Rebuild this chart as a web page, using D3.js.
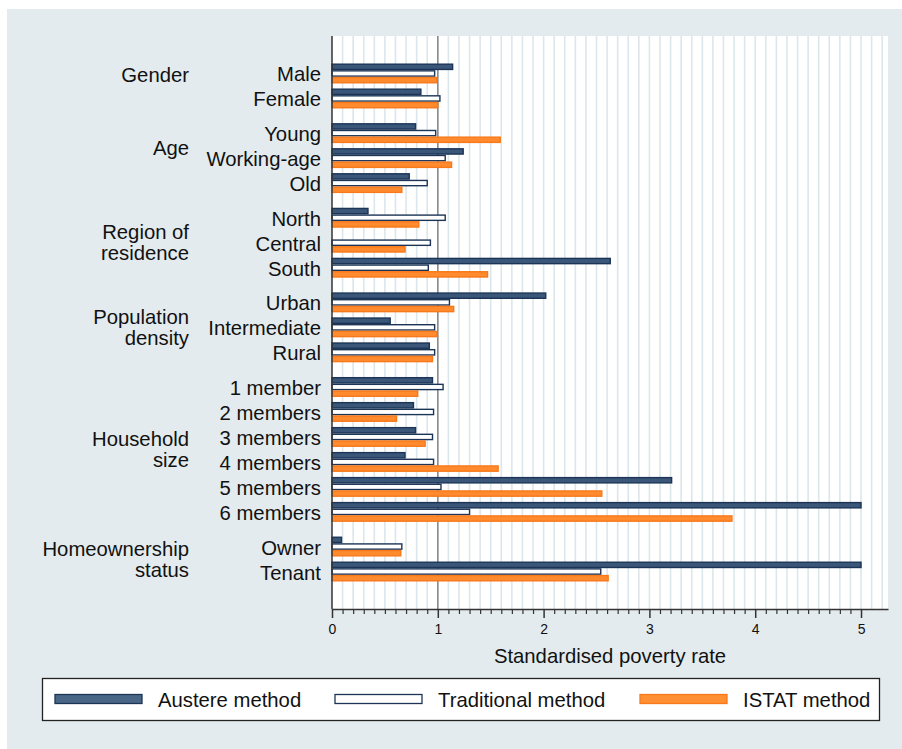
<!DOCTYPE html>
<html>
<head>
<meta charset="utf-8">
<script src="https://cdn.jsdelivr.net/npm/d3@7"></script>
<style>
  body { margin: 0; background: #fff; }
  text { font-family: "Liberation Sans", Arial, Helvetica, sans-serif; fill: #111; }
</style>
</head>
<body>
<div id="chart"></div>
<script>
(function () {
    var width = 902,
        height = 749;

    // data
    var groupLabels = [["Gender"], ["Age"], ["Region of", "residence"], ["Population", "density"], ["Household", "size"], ["Homeownership", "status"]];
    var categories = ["Male", "Female", "Young", "Working-age", "Old", "North", "Central", "South",
        "Urban", "Intermediate", "Rural", "1 member", "2 members", "3 members", "4 members",
        "5 members", "6 members", "Owner", "Tenant"];
    var groupOf = [0, 0, 1, 1, 1, 2, 2, 2, 3, 3, 3, 4, 4, 4, 4, 4, 4, 5, 5];
    var austere = [1.14, 0.84, 0.79, 1.24, 0.73, 0.34, null, 2.63, 2.02, 0.55, 0.92, 0.95, 0.77, 0.79, 0.69, 3.21, 5.0, 0.09, 5.0];
    var traditional = [0.97, 1.02, 0.98, 1.07, 0.90, 1.07, 0.93, 0.91, 1.11, 0.97, 0.97, 1.05, 0.96, 0.95, 0.96, 1.03, 1.30, 0.66, 2.54];
    var istat = [0.99, 1.00, 1.59, 1.13, 0.66, 0.82, 0.69, 1.47, 1.15, 0.99, 0.95, 0.81, 0.61, 0.88, 1.57, 2.55, 3.78, 0.65, 2.61];
    var seriesNames = ["Austere method", "Traditional method", "ISTAT method"];
    var xTicks = [0, 1, 2, 3, 4, 5];

    var series = [austere, traditional, istat];
    var fills = ["#3a5678", "#ffffff", "#ff8b2e"];
    var strokes = ["#1c3557", "#1c3557", "#f7791a"];

    var plot = {left: 332, right: 888, top: 36, bottom: 609};
    var gapFrac = 0.387;   // extra space between groups, in slots

    var svg = d3.select("#chart")
        .append("svg")
        .attr("width", width)
        .attr("height", height);

    svg.append("rect")
        .attr("x", 7).attr("y", 9)
        .attr("width", width - 7).attr("height", height - 9)
        .attr("fill", "#e3ebee");

    svg.append("rect")
        .attr("x", plot.left).attr("y", plot.top)
        .attr("width", plot.right - plot.left).attr("height", plot.bottom - plot.top)
        .attr("fill", "#fff");

    var x = d3.scaleLinear().domain([0, 5.255]).range([plot.left, plot.right]);

    // slot position of each category, groups separated by a gap
    var slot = categories.map(function (c, i) { return i + groupOf[i] * gapFrac; });
    var yMax = slot[slot.length - 1] + 2;
    var y = d3.scaleLinear().domain([-1, yMax]).range([plot.top, plot.bottom]);
    var barH = (y(0.8) - y(0)) / 3;

    // minor grid every 0.1
    var grid = d3.range(1, 53).map(function (i) { return i / 10; });
    svg.append("g").selectAll("line")
        .data(grid)
        .enter().append("line")
        .attr("x1", function (d) { return x(d); })
        .attr("x2", function (d) { return x(d); })
        .attr("y1", plot.top).attr("y2", plot.bottom)
        .attr("stroke", "#dce7eb")
        .attr("stroke-width", 1.6);

    // reference line at 1
    svg.append("line")
        .attr("x1", x(1)).attr("x2", x(1))
        .attr("y1", plot.top).attr("y2", plot.bottom)
        .attr("stroke", "#8c8c8c")
        .attr("stroke-width", 1.6);

    // bars
    series.forEach(function (vals, s) {
        svg.append("g").selectAll("rect")
            .data(vals.map(function (v, i) { return {v: v, i: i}; }).filter(function (d) { return d.v !== null; }))
            .enter().append("rect")
            .attr("x", x(0))
            .attr("y", function (d) { return y(slot[d.i] + 0.1) + s * barH + 0.7; })
            .attr("width", function (d) { return x(d.v) - x(0); })
            .attr("height", barH - 1.4)
            .attr("fill", fills[s])
            .attr("stroke", strokes[s])
            .attr("stroke-width", 1.4);
    });

    // y axis line
    svg.append("line")
        .attr("x1", plot.left).attr("x2", plot.left)
        .attr("y1", plot.top).attr("y2", plot.bottom)
        .attr("stroke", "#333")
        .attr("stroke-width", 1.5);

    // x axis
    var minorAxis = d3.axisBottom(x)
        .tickValues(grid.filter(function (d) { return Math.abs(d - Math.round(d)) > 1e-6 && d < 5.05; }))
        .tickSize(5).tickSizeOuter(0).tickFormat("");
    svg.append("g")
        .attr("transform", "translate(0," + plot.bottom + ")")
        .call(minorAxis)
        .call(function (g) {
            g.select(".domain").attr("stroke", "#333").attr("stroke-width", 1.5);
            g.selectAll(".tick line").attr("stroke", "#333").attr("stroke-width", 1.2);
        });

    var majorAxis = d3.axisBottom(x)
        .tickValues(xTicks).tickSize(9).tickSizeOuter(0).tickPadding(6)
        .tickFormat(d3.format("d"));
    svg.append("g")
        .attr("transform", "translate(0," + plot.bottom + ")")
        .call(majorAxis)
        .call(function (g) {
            g.select(".domain").remove();
            g.selectAll(".tick line").attr("stroke", "#333").attr("stroke-width", 1.5);
            g.selectAll(".tick text")
                .attr("font-size", "14px")
                .attr("font-family", "'Liberation Sans', Arial, sans-serif")
                .attr("fill", "#111");
        });

    svg.append("text")
        .attr("x", (plot.left + plot.right) / 2)
        .attr("y", 663)
        .attr("text-anchor", "middle")
        .attr("font-size", "20.3px")
        .text("Standardised poverty rate");

    // category labels
    svg.append("g").selectAll("text")
        .data(categories)
        .enter().append("text")
        .attr("x", 321)
        .attr("y", function (d, i) { return y(slot[i] + 0.5) + 8; })
        .attr("text-anchor", "end")
        .attr("font-size", "20.3px")
        .text(function (d) { return d; });

    // group labels
    groupLabels.forEach(function (lines, g) {
        var idx = groupOf.map(function (v, i) { return v === g ? i : -1; }).filter(function (i) { return i >= 0; });
        var mid = (y(slot[idx[0]] + 0.5) + y(slot[idx[idx.length - 1]] + 0.5)) / 2;
        lines.forEach(function (t, k) {
            svg.append("text")
                .attr("x", 189)
                .attr("y", mid - 11.5 + k * 21 + 8)
                .attr("text-anchor", "end")
                .attr("font-size", "20.3px")
                .text(t);
        });
    });

    // legend
    var legend = svg.append("g");
    legend.append("rect")
        .attr("x", 42.5).attr("y", 678.5)
        .attr("width", 837).attr("height", 42)
        .attr("fill", "#fff")
        .attr("stroke", "#222")
        .attr("stroke-width", 1.3);
    var legX = [55, 335, 640];
    var legFills = ["#4a6687", "#ffffff", "#ff8f33"];
    seriesNames.forEach(function (name, s) {
        legend.append("rect")
            .attr("x", legX[s]).attr("y", 694.5)
            .attr("width", 87).attr("height", 9)
            .attr("fill", legFills[s])
            .attr("stroke", strokes[s])
            .attr("stroke-width", 1.3);
        legend.append("text")
            .attr("x", legX[s] + 103)
            .attr("y", 707)
            .attr("font-size", "20.3px")
            .text(name);
    });
})();
</script>
</body>
</html>
